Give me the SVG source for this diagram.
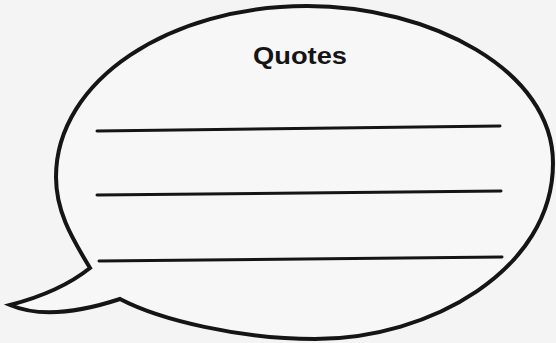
<svg xmlns="http://www.w3.org/2000/svg" width="556" height="343" viewBox="0 0 556 343">
<style>
.outline{fill:#f7f7f7;stroke:#151515;stroke-width:4;stroke-linejoin:miter}
.rule{stroke:#151515;stroke-width:3;stroke-linecap:round}
.title{font-family:"Liberation Sans",Arial,sans-serif;font-weight:700;font-size:24px;fill:#151515}
</style>
<rect width="556" height="343" fill="#f4f4f4"/>
<g id="bubble">
<path class="outline" d="M90,268 C70,235 56,210 56,177 C56,80 170,6 307,6 C430,6 553,70 553,163 C553,270 430,339 315,339 C240,339 160,320 120,299 Q50,322 10,305 Q60,292 90,268 Z"/>
</g>
<g id="title">
<text class="title" x="253" y="64" textLength="94" lengthAdjust="spacingAndGlyphs">Quotes</text>
</g>
<g id="lines">
<line class="rule" x1="97" y1="131" x2="500" y2="126"/>
<line class="rule" x1="97" y1="195" x2="501" y2="191"/>
<line class="rule" x1="99" y1="261" x2="502" y2="257"/>
</g>
</svg>
